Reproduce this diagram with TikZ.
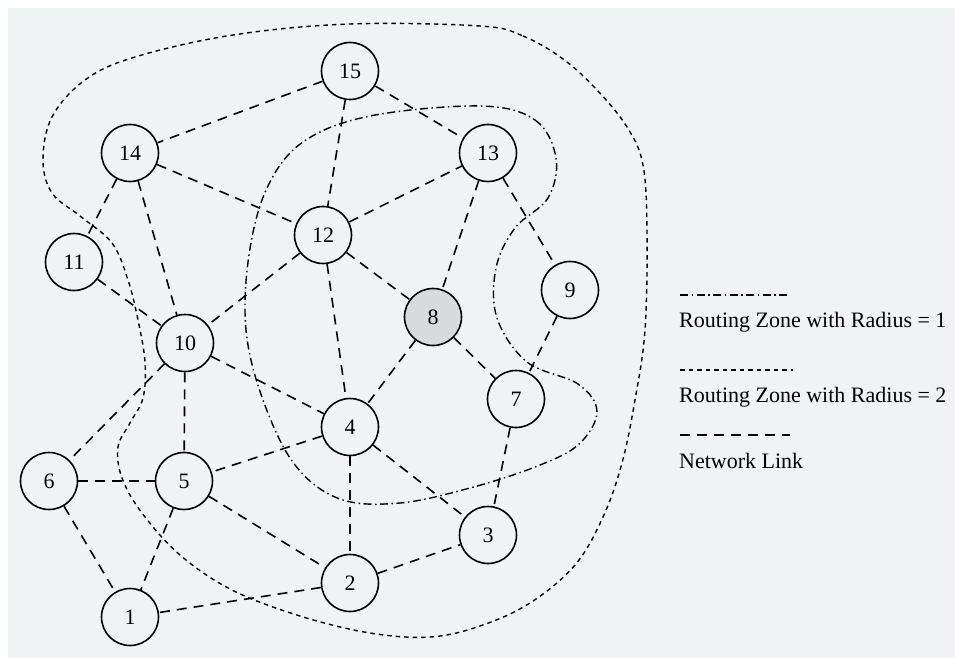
\documentclass[tikz,border=0pt]{standalone}
\usepackage{fontspec}
\setmainfont{Liberation Serif}
\definecolor{bgc}{HTML}{F0F3F3}
\definecolor{shade}{HTML}{D8DBDB}
\begin{document}
\begin{tikzpicture}[x=1pt,y=-1pt,
  nd/.style={circle,draw=black,line width=1.6pt,minimum size=57pt,inner sep=0pt,fill=bgc,font=\fontsize{22}{22}\selectfont},
  link/.style={line width=1.6pt,dash pattern=on 10pt off 7pt},
  zoneone/.style={line width=1.4pt,dash pattern=on 8pt off 3.5pt on 1.5pt off 3.5pt},
  zonetwo/.style={line width=1.4pt,dash pattern=on 4.5pt off 4pt},
  lbl/.style={anchor=west,inner sep=0pt,font=\fontsize{22}{24}\selectfont}]
% page
\fill[white] (0,0) rectangle (955,658);
\fill[bgc] (8,8) rectangle (955,658);
\useasboundingbox (0,0) rectangle (955,658);
% routing zone radius 2
\draw[zonetwo] plot[smooth cycle,tension=0.6] coordinates {
 (480,26) (523,36) (563,59) (597,90) (627,127) (643,165) (647,233) (645,330)
 (635,400) (622,463) (603,517) (575,565) (530,603) (480,626) (430,637)
 (370,633) (300,616) (232,590) (180,555) (142,513) (122,478) (118,447)
 (130,423) (143,398) (145,362) (138,320) (128,280) (112,243) (80,216)
 (52,193) (43,160) (52,117) (85,80) (135,57) (233,35) (350,24)};
% routing zone radius 1
\draw[zoneone] plot[smooth cycle,tension=0.6] coordinates {
 (480,106) (535,120) (556,158) (548,198) (515,228) (496,268) (497,318)
 (527,362) (578,384) (597,412) (578,445) (535,467) (470,488) (400,503)
 (340,499) (295,465) (263,400) (246,330) (249,255) (267,188) (303,142)
 (370,116)};
% nodes
\node[nd] (n15) at (350,71) {15};
\node[nd] (n14) at (130,153) {14};
\node[nd] (n13) at (488,153) {13};
\node[nd] (n12) at (323,235) {12};
\node[nd] (n11) at (74,262) {11};
\node[nd] (n9) at (570,290) {9};
\node[nd,fill=shade] (n8) at (433,317) {8};
\node[nd] (n10) at (185,343) {10};
\node[nd] (n7) at (516,399) {7};
\node[nd] (n4) at (350,427) {4};
\node[nd] (n6) at (49,481) {6};
\node[nd] (n5) at (184,481) {5};
\node[nd] (n3) at (488,535) {3};
\node[nd] (n2) at (350,583) {2};
\node[nd] (n1) at (130,617) {1};
% links
\foreach \a/\b in {n15/n14,n15/n12,n15/n13,n14/n11,n14/n10,n14/n12,n12/n13,
  n12/n10,n12/n8,n12/n4,n13/n8,n13/n9,n11/n10,n10/n6,n10/n5,n10/n4,n8/n4,
  n8/n7,n9/n7,n4/n5,n4/n2,n4/n3,n7/n3,n6/n5,n6/n1,n5/n1,n5/n2,n2/n3,n2/n1}
  \draw[link] (\a) -- (\b);
% legend
\coordinate (la1) at (680,295); \coordinate (lb1) at (790,295);
\coordinate (la2) at (680,370); \coordinate (lb2) at (793,370);
\coordinate (la3) at (680,435); \coordinate (lb3) at (790,435);
\draw[zoneone] (la1) -- (lb1);
\draw[zonetwo] (la2) -- (lb2);
\draw[link] (la3) -- (lb3);
\node[lbl] (t1) at (679,322) {Routing Zone with Radius = 1};
\node[lbl] (t2) at (679,397) {Routing Zone with Radius = 2};
\node[lbl] (t3) at (679,461) {Network Link};
\end{tikzpicture}
\end{document}
